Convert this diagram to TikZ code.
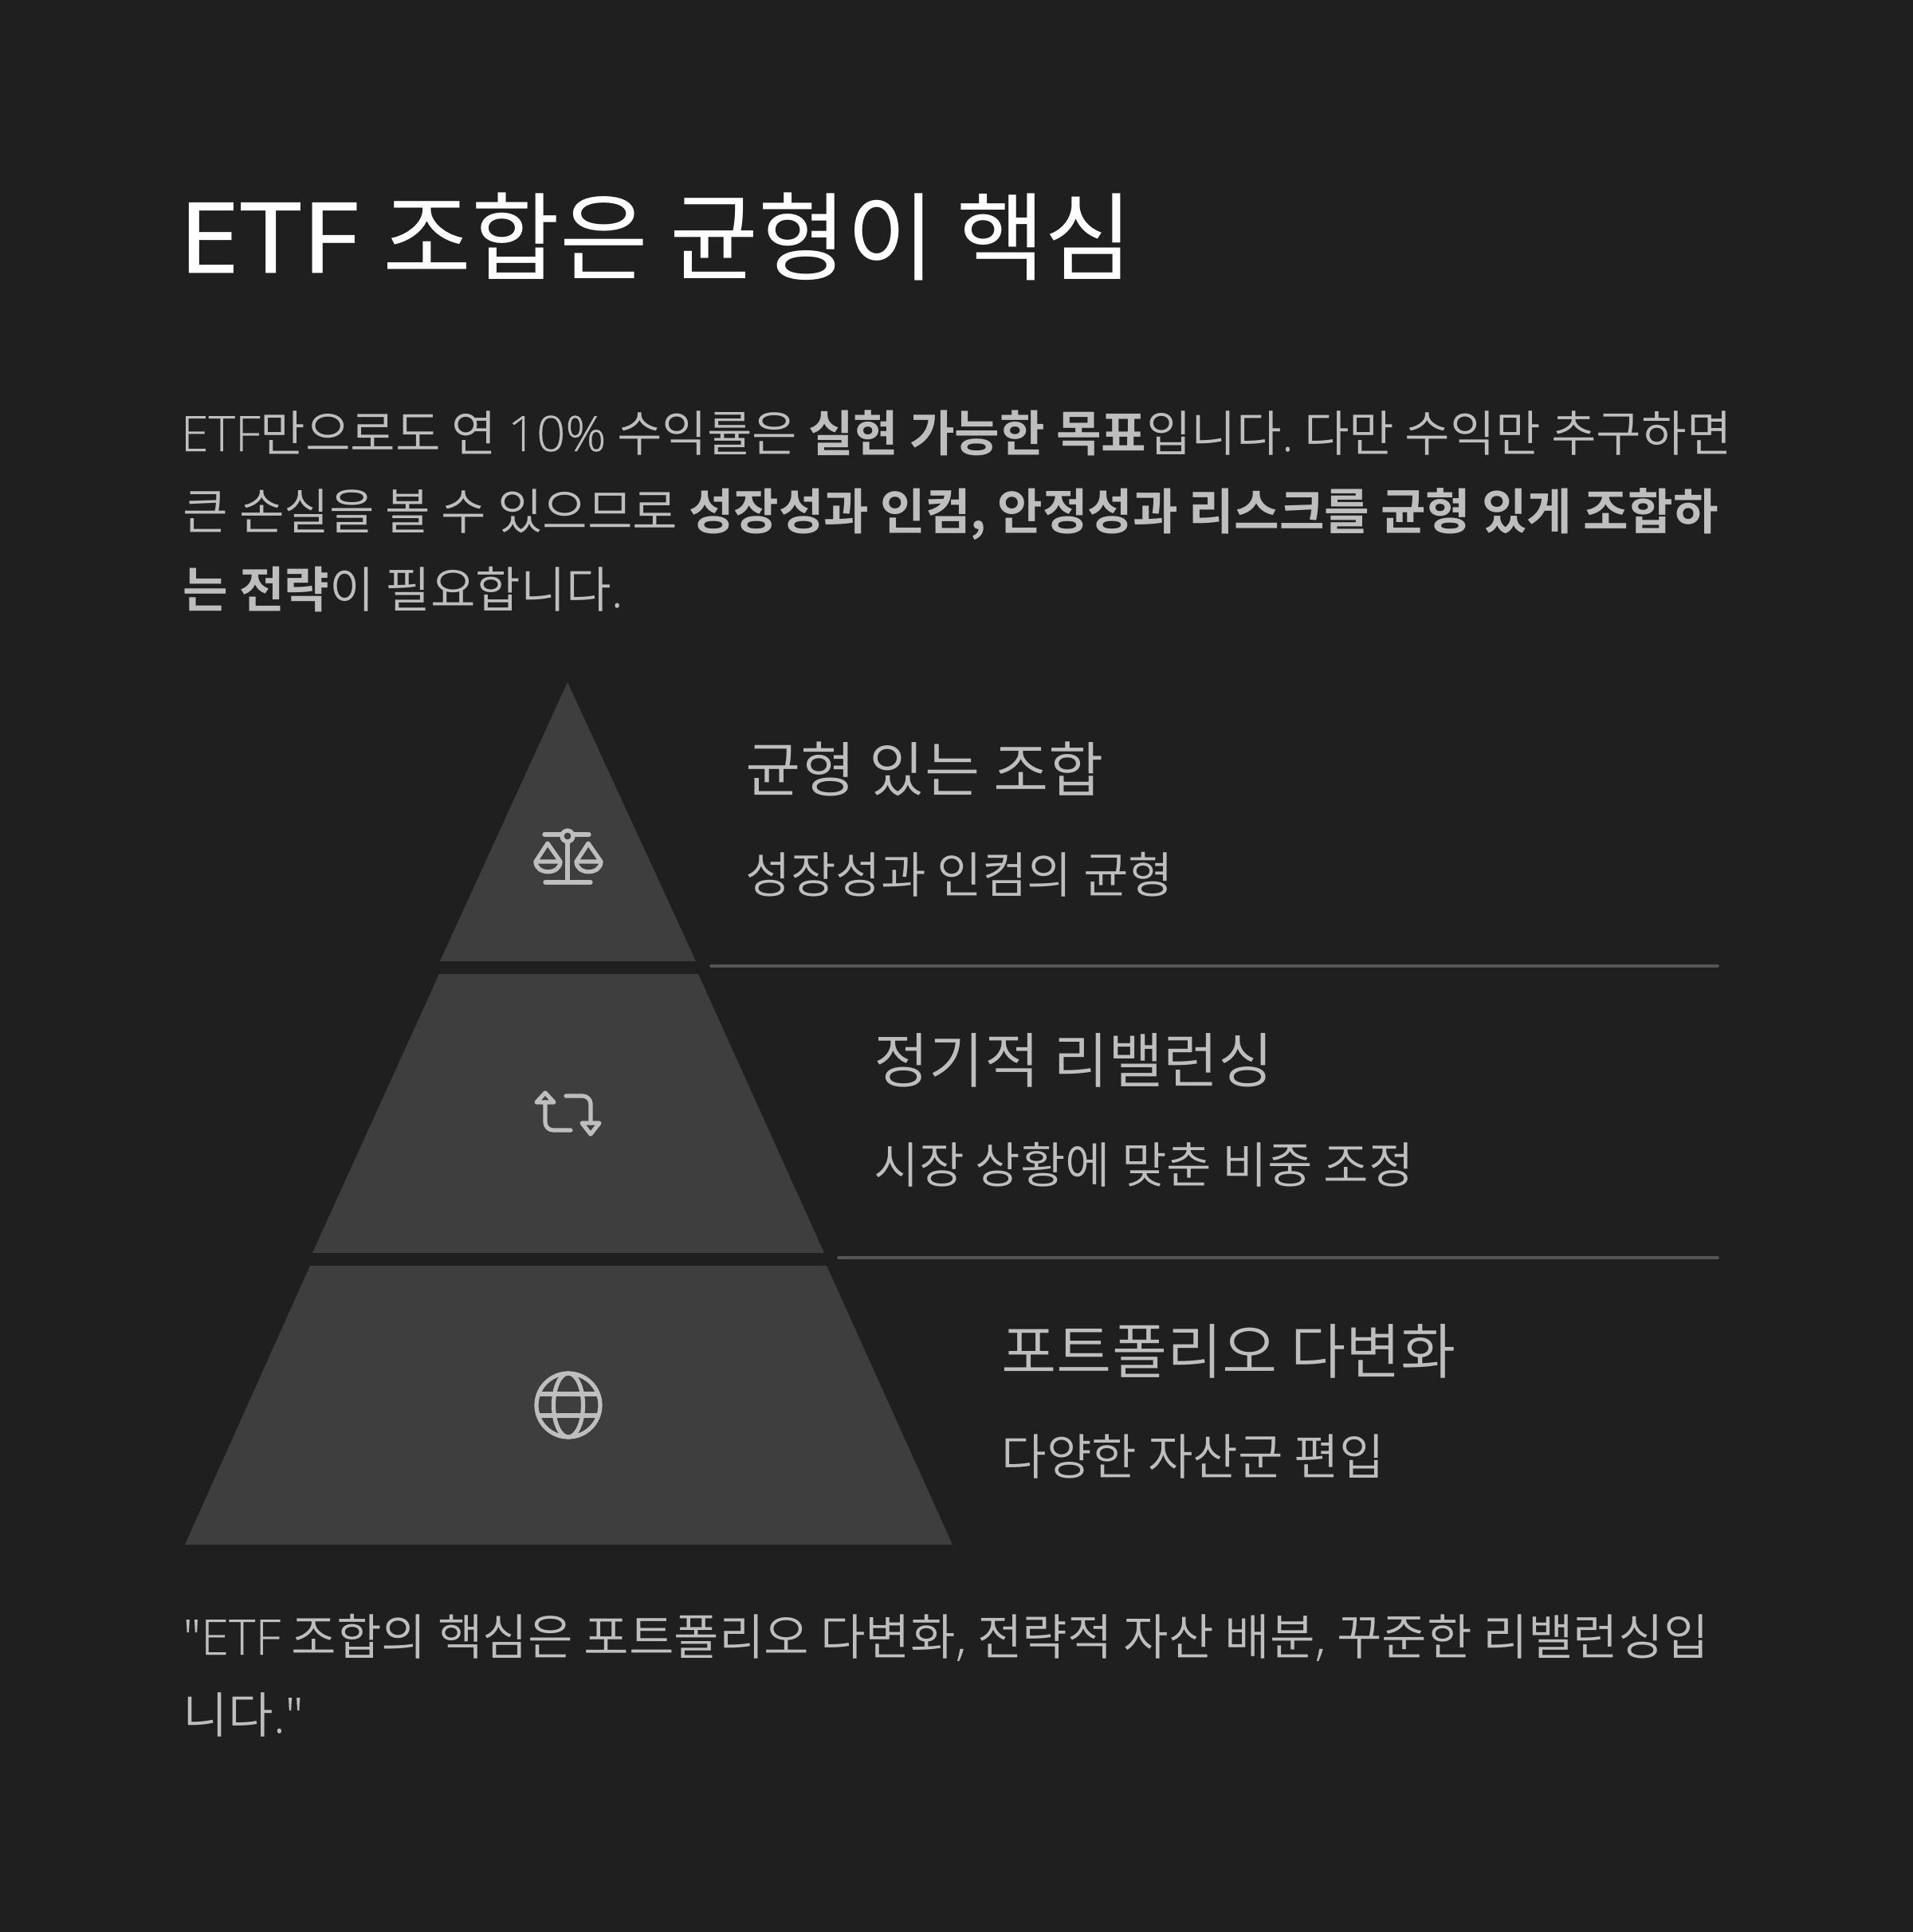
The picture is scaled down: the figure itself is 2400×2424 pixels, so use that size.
\documentclass[tikz,border=0pt]{standalone}
\usepackage{fontspec}
\setmainfont{Noto Sans CJK KR}[BoldFont={Noto Sans CJK KR Bold}]
\newfontfamily\krbody{Noto Sans CJK KR DemiLight}[BoldFont={Noto Sans CJK KR Bold}]
\newfontfamily\ltnbody{Open Sans Light}[FakeBold=0.3,FakeStretch=1.03]
\newfontfamily\ltnhead{Noto Sans}[FakeStretch=1.13,FakeBold=0.4]
\newcommand{\ltn}[1]{{\ltnbody #1}}
\definecolor{pagebg}{RGB}{31,31,31}
\definecolor{layerfill}{RGB}{62,62,62}
\definecolor{bodytxt}{RGB}{190,190,190}
\definecolor{rulegray}{RGB}{85,85,85}
\tikzset{
  titletxt/.style={anchor=base west, inner sep=0pt, text=white, font=\fontsize{34.3}{34.3}\selectfont},
  bodyline/.style={anchor=base west, inner sep=0pt, text=bodytxt, font=\krbody\fontsize{17.5}{17.5}\selectfont},
  headtxt/.style={anchor=base west, inner sep=0pt, text=bodytxt, font=\krbody\fontsize{21.4}{21.4}\selectfont},
  layer/.style={fill=layerfill, draw=none},
  divider/.style={draw=rulegray, line width=0.35mm, line cap=round},
  icon/.style={draw=bodytxt, line width=0.52mm, line cap=round, line join=round},
}
\begin{document}
\begin{tikzpicture}[x=0.1mm, y=-0.1mm]
\useasboundingbox (0,0) rectangle (2400,2424);
\fill[pagebg] (0,0) rectangle (2400,2424);

% title and intro
\node[titletxt] (title) at (223,342) {{\ltnhead\fontsize{35}{35}\selectfont ETF}\kern0.9pt{} 조합은 균형이 핵심};
\node[bodyline] (introa) at (226,566) {\ltn{ETF}만으로도 연 \ltn{10\%} 수익률은 {\bfseries 실현 가능한 목표}입니다\ltn{.}\kern-1.5pt{} 다만 수익만 추구하면};
\node[bodyline] (introb) at (229,664) {큰 손실을 볼 수 있으므로 {\bfseries 성장성과 인컴, 안정성과 리스크를 균형 있게 조합하}};
\node[bodyline] (introc) at (229,762) {{\bfseries 는 전략}이 필요합니다\ltn{.}};

% pyramid layers
\fill[layer] (712,856) -- (873,1206) -- (552,1206) -- cycle;
\fill[layer] (551,1222) -- (876,1222) -- (1034,1572) -- (392,1572) -- cycle;
\fill[layer] (389,1588) -- (1037,1588) -- (1195,1938) -- (232,1938) -- cycle;

\draw[divider] (892,1212) -- (2155,1212);
\draw[divider] (1052,1578) -- (2155,1578);

% labels
\node[headtxt] (heada) at (935,993) {균형 있는 조합};
\node[bodyline] (suba) at (935,1120) {성장성과 인컴의 균형};
\node[headtxt] (headb) at (1096,1358) {정기적 리밸런싱};
\node[bodyline] (subb) at (1096,1484) {시장 상황에 맞춘 비중 조정};
\node[headtxt] (headc) at (1256,1723) {포트폴리오 다변화};
\node[bodyline] (subc) at (1256,1850) {다양한 자산군 편입};

% quote
\node[bodyline] (quotea) at (229,2076) {\ltn{"ETF} 조합의 핵심은 포트폴리오 다변화\ltn{,} 전략적 자산 배분\ltn{,} 꾸준한 리밸런싱입};
\node[bodyline] (quoteb) at (229,2174) {니다\ltn{."}};

% balance icon
\draw[icon] (683,1047) -- (705,1047) (719,1047) -- (739,1047);
\draw[icon] (712,1049) circle (7);
\draw[icon] (712,1056) -- (712,1107);
\draw[icon] (684,1107) -- (741,1107);
\draw[icon] (672,1081) -- (687,1058) -- (703,1081) -- cycle;
\draw[icon] (672,1081) .. controls (672,1098) and (703,1098) .. (703,1081);
\draw[icon] (723,1081) -- (738,1058) -- (754,1081) -- cycle;
\draw[icon] (723,1081) .. controls (723,1098) and (754,1098) .. (754,1081);

% rebalance icon
\draw[icon] (684,1371) -- (695,1383) -- (673,1383) -- cycle;
\draw[icon, rounded corners=1mm] (684,1383) -- (684,1418) -- (716,1418);
\draw[icon] (741,1423) -- (752,1409) -- (730,1409) -- cycle;
\draw[icon, rounded corners=1mm] (710,1375) -- (741,1375) -- (741,1409);

% globe icon
\draw[icon] (713,1763) circle (40);
\draw[icon] (713,1763) ellipse (18.5 and 40);
\draw[icon] (677,1749) -- (749,1749) (677,1776) -- (749,1776);
\end{tikzpicture}
\end{document}
